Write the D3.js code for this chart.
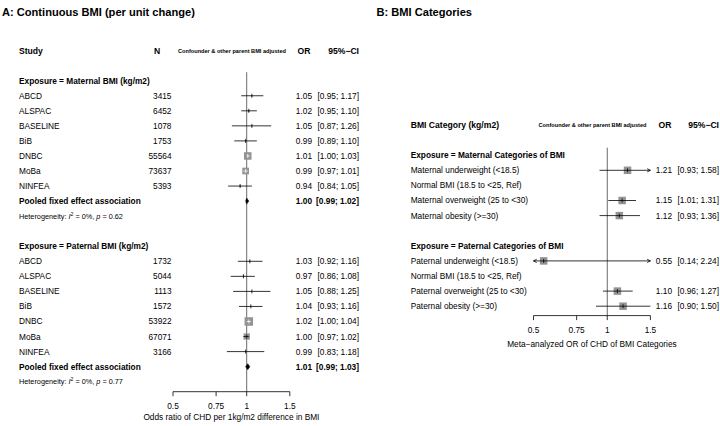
<!DOCTYPE html>
<html>
<head>
<meta charset="utf-8">
<script src="https://cdn.jsdelivr.net/npm/d3@7"></script>
<style>
  html, body { margin: 0; padding: 0; background: #fff; }
  svg { display: block; }
  text { font-family: "Liberation Sans", Arial, Helvetica, sans-serif; fill: #000; }
</style>
</head>
<body>
<svg id="chart" width="720" height="426"></svg>
<script>
// ---------------- DATA ----------------
const studies = ["ABCD", "ALSPAC", "BASELINE", "BiB", "DNBC", "MoBa", "NINFEA"];

const matN  = [3415, 6452, 1078, 1753, 55564, 73637, 5393];
const matOR = [1.05, 1.02, 1.05, 0.99, 1.01, 0.99, 0.94];
const matLo = [0.95, 0.95, 0.87, 0.89, 1.00, 0.97, 0.84];
const matHi = [1.17, 1.10, 1.26, 1.10, 1.03, 1.01, 1.05];
const matW  = [1.2, 2.5, 0.4, 1.2, 43, 34, 1.1];
const matPooled = [1.00, 0.99, 1.02];
const matHet = ["0%", "0.62"];

const patN  = [1732, 5044, 1113, 1572, 53922, 67071, 3166];
const patOR = [1.03, 0.97, 1.05, 1.04, 1.02, 1.00, 0.99];
const patLo = [0.92, 0.86, 0.88, 0.93, 1.00, 0.97, 0.83];
const patHi = [1.16, 1.08, 1.25, 1.16, 1.04, 1.02, 1.18];
const patW  = [1.1, 1.5, 0.5, 1.4, 55, 30, 0.6];
const patPooled = [1.01, 0.99, 1.03];
const patHet = ["0%", "0.77"];

const catMatLabels = ["Maternal underweight (<18.5)", "Normal BMI (18.5 to <25, Ref)", "Maternal overweight (25 to <30)", "Maternal obesity (>=30)"];
const catMatOR = [1.21, null, 1.15, 1.12];
const catMatLo = [0.93, null, 1.01, 0.93];
const catMatHi = [1.58, null, 1.31, 1.36];

const catPatLabels = ["Paternal underweight (<18.5)", "Normal BMI (18.5 to <25, Ref)", "Paternal overweight (25 to <30)", "Paternal obesity (>=30)"];
const catPatOR = [0.55, null, 1.10, 1.16];
const catPatLo = [0.14, null, 0.96, 0.90];
const catPatHi = [2.24, null, 1.27, 1.50];

const tickValues = [0.5, 0.75, 1, 1.5];
const tickLabels = ["0.5", "0.75", "1", "1.5"];

// ---------------- DRAWING ----------------
const svg = d3.select("#chart");
svg.append("rect").attr("width", 720).attr("height", 426).attr("fill", "#fff");

const FS = 8.3;
const SQ = "#939393";
const fmt = d3.format(".2f");
const sizeScale = d3.scaleSqrt().domain([0, 55]).range([0, 8.5]);

function txt(g, x, y, s, opts = {}) {
  return g.append("text")
    .attr("x", x).attr("y", y).attr("dy", "0.36em")
    .attr("font-size", opts.size || FS)
    .attr("font-weight", opts.bold ? "bold" : "normal")
    .attr("text-anchor", opts.anchor || "start")
    .text(s);
}

function hetText(g, x, y, i2, p) {
  const t = g.append("text").attr("x", x).attr("y", y).attr("dy", "0.36em").attr("font-size", 7.3);
  t.append("tspan").text("Heterogeneity: ");
  t.append("tspan").attr("font-style", "italic").text("I");
  t.append("tspan").attr("font-size", 5.2).attr("dy", -3).text("2");
  t.append("tspan").attr("dy", 3).text(" = " + i2 + ", ");
  t.append("tspan").attr("font-style", "italic").text("p");
  t.append("tspan").text(" = " + p);
}

function arrowHead(g, x, y, dir) {
  g.append("path")
    .attr("d", `M${x - dir * 3.2},${y - 1.6} L${x},${y} L${x - dir * 3.2},${y + 1.6}`)
    .attr("fill", "none").attr("stroke", "#000").attr("stroke-width", 0.8);
}

function study(g, x, y, est, lo, hi, size) {
  const [d0, d1] = x.domain();
  const xl = x(Math.max(lo, d0)), xh = x(Math.min(hi, d1)), cx = x(est);
  g.append("line").attr("x1", xl).attr("x2", xh).attr("y1", y).attr("y2", y)
    .attr("stroke", "#000").attr("stroke-width", 0.8);
  if (lo < d0) arrowHead(g, xl, y, -1);
  if (hi > d1) arrowHead(g, xh, y, 1);
  const h = size / 2;
  g.append("rect").attr("x", cx - h).attr("y", y - h).attr("width", size).attr("height", size)
    .attr("fill", SQ);
  const inside = x(lo) >= cx - h && x(hi) <= cx + h;
  const col = inside ? "#fff" : "#000";
  g.append("line").attr("x1", Math.max(cx - h, xl)).attr("x2", Math.min(cx + h, xh))
    .attr("y1", y).attr("y2", y).attr("stroke", col).attr("stroke-width", 0.8);
  g.append("line").attr("x1", cx).attr("x2", cx).attr("y1", y - 2).attr("y2", y + 2)
    .attr("stroke", col).attr("stroke-width", 0.8);
}

function diamond(g, x, y, est, lo, hi) {
  g.append("path")
    .attr("d", `M${x(lo)},${y} L${x(est)},${y - 3} L${x(hi)},${y} L${x(est)},${y + 3} Z`)
    .attr("fill", "#000").attr("stroke", "#000").attr("stroke-width", 0.5);
}

function axis(g, x, y, title, titleY) {
  const [d0, d1] = x.domain();
  g.append("line").attr("x1", x(d0)).attr("x2", x(d1)).attr("y1", y).attr("y2", y)
    .attr("stroke", "#000").attr("stroke-width", 0.8);
  tickValues.forEach((v, i) => {
    g.append("line").attr("x1", x(v)).attr("x2", x(v)).attr("y1", y).attr("y2", y + 4.5)
      .attr("stroke", "#000").attr("stroke-width", 0.8);
    txt(g, x(v), y + 14.7, tickLabels[i], { anchor: "middle" });
  });
  txt(g, (x(d0) + x(d1)) / 2, titleY, title, { anchor: "middle" });
}

// ---------- Panel A ----------
{
  const g = svg.append("g");
  const x = d3.scaleLog().domain([0.5, 1.5]).range([173.0, 289.8]);
  const row = i => 50.6 + 15.05 * i;
  const labX = 19, nX = 171.5, orX = 312, ciX = 359;

  txt(g, 2, 11.7, "A: Continuous BMI (per unit change)", { bold: true, size: 11.1 });

  txt(g, labX, row(0), "Study", { bold: true, size: 8.6 });
  txt(g, 157, row(0), "N", { bold: true, size: 8.6, anchor: "middle" });
  txt(g, 232, row(0), "Confounder & other parent BMI adjusted", { bold: true, size: 5.6, anchor: "middle" });
  txt(g, 304, row(0), "OR", { bold: true, size: 8.6, anchor: "middle" });
  txt(g, ciX, row(0), "95%\u2212CI", { bold: true, size: 8.6, anchor: "end" });

  const axisY = row(22) + 10;
  g.append("line").attr("x1", x(1)).attr("x2", x(1)).attr("y1", row(2) - 8.5).attr("y2", axisY)
    .attr("stroke", "#6a6a6a").attr("stroke-width", 1);

  const sections = [
    { start: 2, head: "Exposure = Maternal BMI (kg/m2)", N: matN, OR: matOR, lo: matLo, hi: matHi, w: matW, pooled: matPooled, het: matHet },
    { start: 13, head: "Exposure = Paternal BMI (kg/m2)", N: patN, OR: patOR, lo: patLo, hi: patHi, w: patW, pooled: patPooled, het: patHet }
  ];
  sections.forEach(s => {
    txt(g, labX, row(s.start), s.head, { bold: true });
    studies.forEach((name, i) => {
      const y = row(s.start + 1 + i);
      txt(g, labX, y, name);
      txt(g, nX, y, String(s.N[i]), { anchor: "end" });
      study(g, x, y, s.OR[i], s.lo[i], s.hi[i], sizeScale(s.w[i]));
      txt(g, orX, y, fmt(s.OR[i]), { anchor: "end" });
      txt(g, ciX, y, "[" + fmt(s.lo[i]) + "; " + fmt(s.hi[i]) + "]", { anchor: "end" });
    });
    const py = row(s.start + 8);
    txt(g, labX, py, "Pooled fixed effect association", { bold: true });
    diamond(g, x, py, s.pooled[0], s.pooled[1], s.pooled[2]);
    txt(g, orX, py, fmt(s.pooled[0]), { anchor: "end", bold: true });
    txt(g, ciX, py, "[" + fmt(s.pooled[1]) + "; " + fmt(s.pooled[2]) + "]", { anchor: "end", bold: true });
    hetText(g, labX, row(s.start + 9), s.het[0], s.het[1]);
  });

  axis(g, x, axisY, "Odds ratio of CHD per 1kg/m2 difference in BMI", 417);
}

// ---------- Panel B ----------
{
  const g = svg.append("g");
  const x = d3.scaleLog().domain([0.5, 1.5]).range([533.5, 650.4]);
  const row = i => 125 + 15.1 * i;
  const labX = 410.7, orX = 672, ciX = 719;

  txt(g, 376.5, 11.7, "B: BMI Categories", { bold: true, size: 11.1 });

  txt(g, labX, row(0), "BMI Category (kg/m2)", { bold: true, size: 8.6 });
  txt(g, 592.5, row(0), "Confounder & other parent BMI adjusted", { bold: true, size: 5.6, anchor: "middle" });
  txt(g, 665, row(0), "OR", { bold: true, size: 8.6, anchor: "middle" });
  txt(g, ciX, row(0), "95%\u2212CI", { bold: true, size: 8.6, anchor: "end" });

  const axisY = row(12) + 9.4;
  g.append("line").attr("x1", x(1)).attr("x2", x(1)).attr("y1", row(2) - 7.5).attr("y2", axisY)
    .attr("stroke", "#6a6a6a").attr("stroke-width", 1);

  const sections = [
    { start: 2, head: "Exposure = Maternal Categories of BMI", labels: catMatLabels, OR: catMatOR, lo: catMatLo, hi: catMatHi },
    { start: 8, head: "Exposure = Paternal Categories of BMI", labels: catPatLabels, OR: catPatOR, lo: catPatLo, hi: catPatHi }
  ];
  sections.forEach(s => {
    txt(g, labX, row(s.start), s.head, { bold: true });
    s.labels.forEach((lab, i) => {
      const y = row(s.start + 1 + i);
      txt(g, labX, y, lab);
      if (s.OR[i] == null) return;
      study(g, x, y, s.OR[i], s.lo[i], s.hi[i], 7.5);
      txt(g, orX, y, fmt(s.OR[i]), { anchor: "end" });
      txt(g, ciX, y, "[" + fmt(s.lo[i]) + "; " + fmt(s.hi[i]) + "]", { anchor: "end" });
    });
  });

  axis(g, x, axisY, "Meta\u2212analyzed OR of CHD of BMI Categories", 344.3);
}
</script>
</body>
</html>
